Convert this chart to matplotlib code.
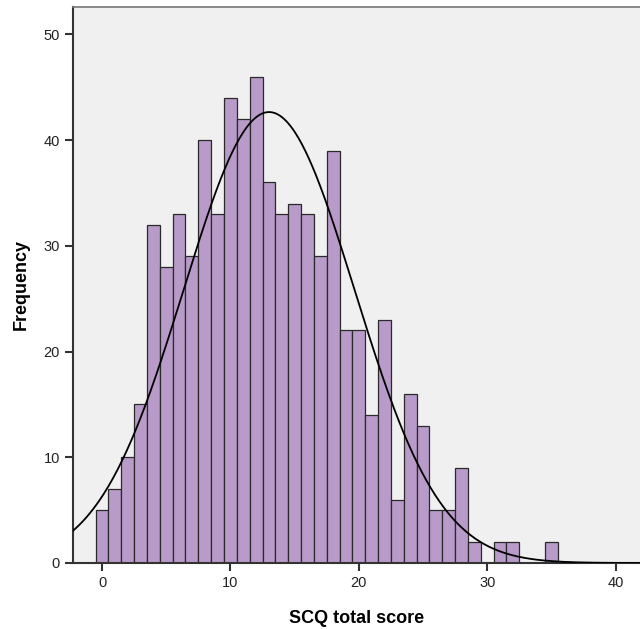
import numpy as np
import matplotlib
matplotlib.use("Agg")
import matplotlib.pyplot as plt

plt.rcParams['font.family'] = ['Liberation Sans', 'DejaVu Sans']

scores = list(range(0, 36))
freq = [5, 7, 10, 15, 32, 28, 33, 29, 40, 33, 44, 42, 46, 36, 33, 34, 33, 29, 39,
        22, 22, 14, 23, 6, 16, 13, 5, 5, 9, 2, 0, 2, 2, 0, 0, 2]
xticks = [0, 10, 20, 30, 40]
yticks = [0, 10, 20, 30, 40, 50]

x = np.array(scores, dtype=float)
f = np.array(freq, dtype=float)
n = f.sum()
mean = (x * f).sum() / n
sd = np.sqrt(((x - mean) ** 2 * f).sum() / (n - 1))

fig = plt.figure(figsize=(6.4, 6.29), dpi=100)
ax = fig.add_axes([73/640, 1 - 563/629, 1 - 73/640, (563 - 7)/629])
ax.set_facecolor('#F0F0F0')

ax.bar(x, f, width=1.0, color='#B89BC9', edgecolor='#2a2a2a', linewidth=0.9, zorder=2)

xs = np.linspace(-2.26, 42, 500)
ys = n * 1.0 / (sd * np.sqrt(2 * np.pi)) * np.exp(-0.5 * ((xs - mean) / sd) ** 2)
ax.plot(xs, ys, color='black', linewidth=1.3, zorder=3)

ax.set_xlim(-2.26, 41.9)
ax.set_ylim(0, 52.6)
ax.set_xticks(xticks)
ax.set_yticks(yticks)
ax.tick_params(axis='both', direction='out', length=6, width=1.5, color='#333333',
               labelsize=10.5, labelcolor='#222222')
for s in ['left', 'bottom']:
    ax.spines[s].set_color('#333333')
    ax.spines[s].set_linewidth(1.5)
ax.spines['top'].set_color('#777777')
ax.spines['top'].set_linewidth(1.2)
ax.spines['right'].set_visible(False)

ax.set_xlabel('SCQ total score', fontsize=13, fontweight='bold', labelpad=14)
ax.set_ylabel('Frequency', fontsize=13, fontweight='bold', labelpad=10)

fig.savefig('out.png', dpi=100)
